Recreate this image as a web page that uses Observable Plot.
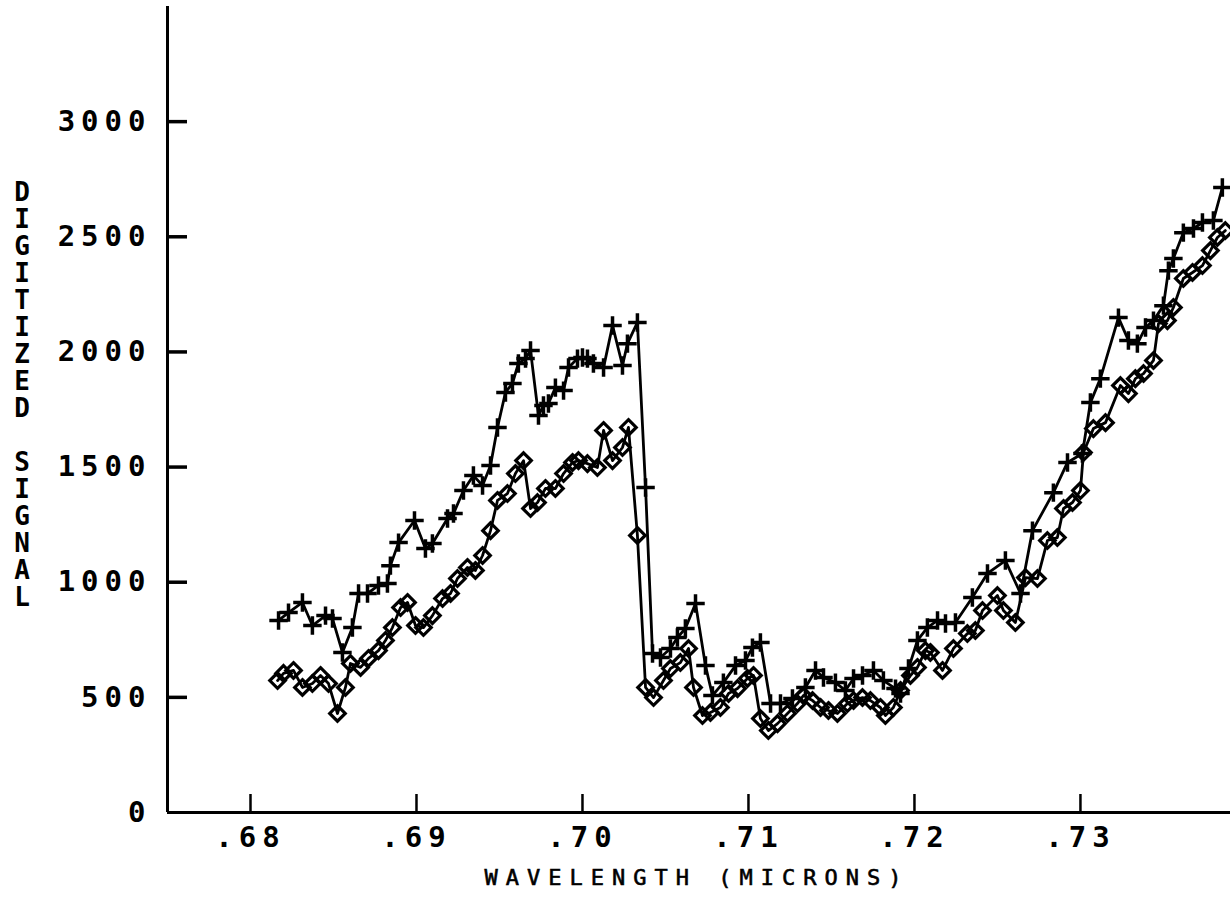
<!DOCTYPE html>
<html>
<head>
<meta charset="utf-8">
<script src="https://cdn.jsdelivr.net/npm/d3@7"></script>
<script src="https://cdn.jsdelivr.net/npm/@observablehq/plot@0.6"></script>
<style>
  html, body { margin: 0; padding: 0; background: #fff; }
  #chart { position: relative; width: 1230px; height: 907px; }
</style>
</head>
<body>
<div id="chart"></div>
<script>
// ---- data ----
const plusWavelength = [0.68169,0.68229,0.68313,0.68373,0.68452,0.68494,0.68554,0.68614,0.68651,0.68705,
  0.68771,0.68825,0.68843,0.68892,0.68988,0.69054,0.69096,0.69187,0.69223,0.69283,
  0.69343,0.69398,0.69446,0.69488,0.69536,0.69578,0.69614,0.69657,0.69687,0.69735,
  0.69765,0.69795,0.69837,0.69886,0.69916,0.69970,0.70000,0.70030,0.70066,0.70127,
  0.70181,0.70241,0.70271,0.70331,0.70380,0.70422,0.70470,0.70530,0.70572,0.70620,
  0.70681,0.70741,0.70783,0.70849,0.70922,0.70982,0.71024,0.71072,0.71133,0.71193,
  0.71265,0.71343,0.71404,0.71452,0.71524,0.71584,0.71633,0.71687,0.71753,0.71813,
  0.71886,0.71916,0.71964,0.72018,0.72078,0.72139,0.72187,0.72247,0.72349,0.72440,
  0.72548,0.72639,0.72711,0.72837,0.72922,0.73012,0.73060,0.73120,0.73229,0.73289,
  0.73343,0.73392,0.73440,0.73500,0.73530,0.73560,0.73620,0.73681,0.73735,0.73801,
  0.73855];
const plusSignal = [834,868,912,812,855,842,695,803,951,951,
  986,994,1072,1172,1268,1146,1168,1277,1298,1398,
  1463,1420,1507,1672,1824,1863,1950,1971,2006,1724,
  1767,1776,1845,1832,1932,1971,1976,1971,1950,1932,
  2115,1941,2036,2128,1411,690,673,712,760,799,
  908,638,508,564,638,660,716,738,473,473,
  495,543,617,586,564,530,582,595,617,573,
  538,517,625,747,803,834,821,825,934,1038,
  1094,951,1224,1389,1520,1559,1780,1884,2149,2050,
  2036,2106,2136,2201,2353,2406,2518,2536,2562,2571,
  2714];

const diamondWavelength = [0.68163,0.68199,0.68259,0.68313,0.68373,0.68422,0.68470,0.68524,0.68572,0.68602,
  0.68663,0.68711,0.68771,0.68813,0.68855,0.68904,0.68946,0.68994,0.69042,0.69096,
  0.69157,0.69205,0.69247,0.69307,0.69355,0.69398,0.69446,0.69488,0.69548,0.69596,
  0.69645,0.69687,0.69729,0.69777,0.69837,0.69886,0.69940,0.69976,0.70030,0.70090,
  0.70127,0.70181,0.70241,0.70277,0.70331,0.70380,0.70428,0.70488,0.70530,0.70590,
  0.70639,0.70669,0.70723,0.70771,0.70831,0.70880,0.70934,0.70994,0.71030,0.71072,
  0.71120,0.71175,0.71235,0.71295,0.71331,0.71386,0.71434,0.71482,0.71536,0.71596,
  0.71633,0.71687,0.71735,0.71795,0.71825,0.71873,0.71916,0.71976,0.72018,0.72066,
  0.72096,0.72169,0.72235,0.72319,0.72367,0.72410,0.72500,0.72536,0.72608,0.72669,
  0.72741,0.72801,0.72861,0.72898,0.72952,0.73000,0.73018,0.73078,0.73151,0.73241,
  0.73289,0.73331,0.73380,0.73440,0.73470,0.73524,0.73560,0.73620,0.73675,0.73735,
  0.73783,0.73825,0.73873];
const diamondSignal = [573,604,617,543,560,595,560,430,543,647,
  630,669,703,747,803,890,912,812,803,855,
  929,951,1016,1064,1051,1116,1224,1355,1385,1472,
  1528,1320,1346,1407,1407,1472,1520,1528,1515,1498,
  1659,1528,1585,1672,1203,543,499,573,625,651,
  712,543,421,434,456,517,538,582,595,408,
  356,386,430,473,508,486,456,443,430,473,
  486,499,486,456,421,456,530,595,630,703,
  695,617,712,777,790,877,942,877,825,1020,
  1016,1181,1194,1320,1346,1398,1563,1667,1693,1854,
  1819,1884,1906,1963,2123,2136,2193,2319,2345,2375,
  2440,2497,2527];

const xTicks = [0.68, 0.69, 0.70, 0.71, 0.72, 0.73];
const yTicks = [0, 500, 1000, 1500, 2000, 2500, 3000];
const xTitle = "WAVELENGTH (MICRONS)";
const yTitle = "DIGITIZED SIGNAL";

// ---- build ----
const plusData = plusWavelength.map((w, i) => ({w, v: plusSignal[i]}));
const diamondData = diamondWavelength.map((w, i) => ({w, v: diamondSignal[i]}));

const W = 1230, H = 907;
const mL = 167, mR = 0, mT = 6, mB = 95;
const xDomain = [0.675, 0.73904];
const yDomain = [0, 3500];
const pxPerX = (W - mL - mR) / (xDomain[1] - xDomain[0]);
const pxPerY = (H - mT - mB) / (yDomain[1] - yDomain[0]);
const yTickLen = 20 / pxPerX;   // inward tick length on y axis (data units)
const xTickLen = 18 / pxPerY;   // inward tick length on x axis (data units)

const plot = Plot.plot({
  width: W, height: H,
  marginLeft: mL, marginRight: mR, marginTop: mT, marginBottom: mB,
  x: {domain: xDomain, axis: null},
  y: {domain: yDomain, axis: null},
  style: {fontFamily: "'DejaVu Sans Mono', monospace", fontWeight: "bold", fontSize: "29px", color: "black", background: "white", overflow: "visible"},
  marks: [
    // axes frame
    Plot.ruleX([xDomain[0]], {y1: yDomain[0], y2: yDomain[1], stroke: "black", strokeWidth: 3}),
    Plot.ruleY([0], {x1: xDomain[0], x2: xDomain[1], stroke: "black", strokeWidth: 3}),
    Plot.ruleY(yTicks.slice(1), {x1: xDomain[0], x2: xDomain[0] + yTickLen, stroke: "black", strokeWidth: 3.5}),
    Plot.ruleX(xTicks, {y1: 0, y2: xTickLen, stroke: "black", strokeWidth: 2.5}),
    Plot.axisY({ticks: yTicks, tickSize: 0, tickPadding: 16, tickFormat: d => String(d), anchor: "left", label: null}),
    Plot.axisX({ticks: xTicks, tickSize: 0, tickPadding: 14, tickFormat: d => d.toFixed(2).replace(/^0/, ""), anchor: "bottom", label: null}),
    // series
    Plot.line(plusData, {x: "w", y: "v", stroke: "black", strokeWidth: 2.8}),
    Plot.line(diamondData, {x: "w", y: "v", stroke: "black", strokeWidth: 2.8}),
    Plot.dot(plusData, {x: "w", y: "v", symbol: "plus", r: 6, stroke: "black", strokeWidth: 3.5}),
    Plot.dot(diamondData, {x: "w", y: "v", symbol: "diamond2", r: 7, stroke: "black", strokeWidth: 3.2, fill: "none"}),
    // x title
    Plot.text([xTitle], {frameAnchor: "bottom", dy: 72, dx: -2, fontSize: 22, fontWeight: "normal", fill: "black"})
  ]
});

document.getElementById("chart").appendChild(plot);
const svg = d3.select(plot);
svg.selectAll('g[aria-label="y-axis tick label"] text, g[aria-label="x-axis tick label"] text').style("letter-spacing", "6px");
svg.selectAll('g[aria-label="text"] text').style("letter-spacing", "8px").style("stroke", "black").style("stroke-width", "0.6px");

// vertical stacked y title (upright letters)
const yt = svg.append("g").attr("aria-label", "y-axis title")
  .attr("font-family", "'DejaVu Sans Mono', monospace").attr("font-weight", "bold").attr("font-size", 26)
  .attr("text-anchor", "middle");
Array.from(yTitle).forEach((ch, i) => {
  yt.append("text").attr("x", 22).attr("y", 192 + i * 27).attr("dy", "0.35em").text(ch);
});
</script>
</body>
</html>
